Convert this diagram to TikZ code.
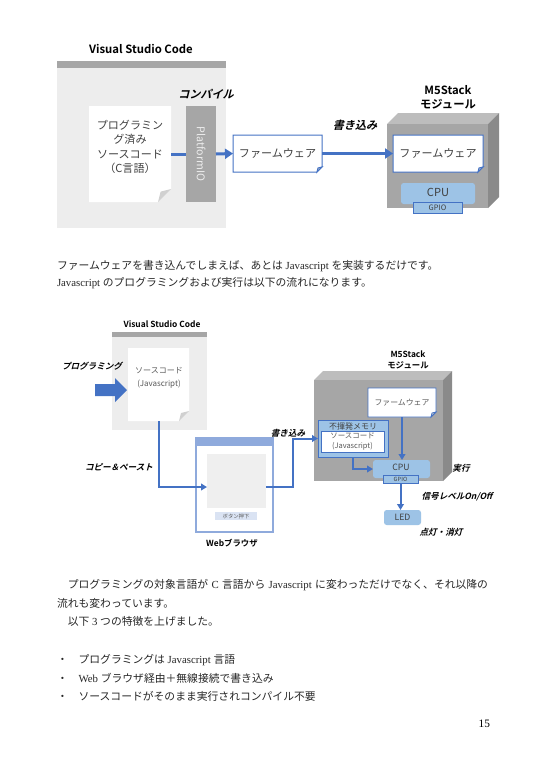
\documentclass[tikz,border=0pt]{standalone}
\usepackage{fontspec}
\setmainfont{Liberation Serif}
\newfontfamily\cjk{Noto Sans CJK JP}
\newfontfamily\cjkb{Noto Sans CJK JP Bold}
\newfontfamily\cjkbi{Noto Sans CJK JP Bold}[FakeSlant=0.25]
\newcommand\JP[1]{{\cjk #1}}
\usetikzlibrary{arrows.meta,fit}
\definecolor{bl}{HTML}{4472C4}
\definecolor{lb}{HTML}{9DC3E6}
\definecolor{vsb}{HTML}{EDEDED}
\definecolor{gr}{HTML}{A6A6A6}
\definecolor{grtop}{HTML}{BDBDBD}
\definecolor{grside}{HTML}{8A8A8A}
\definecolor{brw}{HTML}{8FAADC}
\definecolor{btn}{HTML}{DAE3F3}
\definecolor{inn}{HTML}{EFEFEF}
\definecolor{foldc}{HTML}{D0D0D0}
\definecolor{txt}{HTML}{404040}
\definecolor{txtl}{HTML}{595959}
\newcommand\dogear[4]{%
  \path[fill=#3,#4] (#1.north west) -- (#1.north east) -- ([yshift=#2]#1.south east) -- ([xshift=-#2]#1.south east) -- (#1.south west) -- cycle;
  \path[fill=foldc,#4] ([xshift=-#2]#1.south east) -- ([yshift=#2]#1.south east) -- ([xshift=-0.8*#2,yshift=0.8*#2]#1.south east) -- cycle;
}
\begin{document}
\begin{tikzpicture}[x=0.75pt,y=-0.75pt,
  every node/.style={inner sep=0pt,outer sep=0pt},
  area/.style={inner sep=0pt,outer sep=0pt},
  lbl/.style={font=\cjkbi\fontsize{8.3}{10}\selectfont},
  lbls/.style={font=\cjkbi\fontsize{6.4}{8}\selectfont},
  ttl/.style={font=\cjkb\fontsize{8.5}{10.5}\selectfont,align=center},
  ttls/.style={font=\cjkb\fontsize{6.3}{8.2}\selectfont,align=center},
  dtxt/.style={font=\cjk\fontsize{8.3}{10.7}\selectfont,text=txt,align=center},
  dtxts/.style={font=\cjk\fontsize{6}{9.5}\selectfont,text=txtl,align=center},
  bodyt/.style={anchor=west,font=\fontsize{8.1}{9}\selectfont,text=black!85},
  arr/.style={draw=bl,line width=2.25pt,-{Triangle[length=6pt,width=7.5pt]}},
  arrs/.style={draw=bl,line width=1.5pt,-{Triangle[length=4.5pt,width=5pt]}}]
\useasboundingbox[fill=white] (0,0) rectangle (540,760);

% ---------- top diagram ----------
\node[ttl] (t1) at (141,49) {Visual Studio Code};
\node[area,fit={(57,61) (226,68)},fill=gr] (vsbar1) {};
\node[area,fit={(57,68) (226,228)},fill=vsb] (vs1) {};
\node[area,fit={(89,106) (171,202)}] (doc1) {};
\dogear{doc1}{9.75pt}{white}{draw=none}
\node[dtxt] (doc1t) at (130,147) {プログラミン\\グ済み\\ソースコード\\（C言語）};
\node[area,fit={(186,106) (216,202)},fill=gr] (pio) {};
\node[rotate=-90,font=\cjk\fontsize{8}{9}\selectfont,text=white!80!gr] (piot) at (pio) {PlatformIO};
\node[lbl] (comp) at (206,94) {コンパイル};
\node[area,fit={(233,135) (322,172)}] (fw1) {};
\dogear{fw1}{3.75pt}{white}{draw=bl,line width=0.75pt}
\node[dtxt] (fw1t) at (fw1) {ファームウェア};
\node[lbl] (wr1) at (355,125) {書き込み};
% cube 1
\fill[grtop] (387,124) -- (398,113) -- (499,113) -- (488,124) -- cycle;
\fill[grside] (488,124) -- (499,113) -- (499,197) -- (488,208) -- cycle;
\node[area,fit={(387,124) (488,208)},fill=gr] (m5a) {};
\node[ttl] (m5at) at (448,97) {M5Stack\\モジュール};
\node[area,fit={(393,135) (483,172)}] (fw2) {};
\dogear{fw2}{3.75pt}{white}{draw=bl,line width=0.75pt}
\node[dtxt] (fw2t) at (fw2) {ファームウェア};
\node[area,fit={(401,183) (475,204)},fill=lb,rounded corners=2pt] (cpu1) {};
\node[dtxt] (cpu1t) at (438,192) {CPU};
\node[area,fit={(413,202) (462,213)},fill=lb,draw=bl,line width=0.6pt] (gpio1) {};
\node[font=\cjk\fontsize{5.6}{6}\selectfont,text=txt] (gpio1t) at (gpio1) {GPIO};
% arrows
\draw[draw=bl,line width=2.25pt] (doc1.east) -- (pio.west);
\draw[arr] (pio.east) -- (fw1.west);
\draw[arr] (fw1.east) -- (fw2.west);

% ---------- body text 1 ----------
\node[bodyt] (b1) at (57,266) {\JP{ファームウェアを書き込んでしまえば、あとは} Javascript \JP{を実装するだけです。}};
\node[bodyt] (b2) at (57,283) {Javascript \JP{のプログラミングおよび実行は以下の流れになります。}};

% ---------- bottom diagram ----------
\node[ttls] (t2) at (162,324) {Visual Studio Code};
\node[area,fit={(112,332) (207,337)},fill=gr] (vsbar2) {};
\node[area,fit={(112,337) (207,430)},fill=vsb] (vs2) {};
\node[area,fit={(128,348) (189,421)}] (doc2) {};
\dogear{doc2}{7.5pt}{white}{draw=none}
\node[dtxts] (doc2t) at (159,378) {ソースコード\\(Javascript)};
\fill[bl] (95,384) -- (115,384) -- (115,378) -- (127,390) -- (115,402) -- (115,396) -- (95,396) -- cycle;
\node[lbls] (prg) at (92,366) {プログラミング};
\node[lbls] (cp) at (119,467) {コピー＆ペースト};
% browser
\node[area,fit={(196,438) (273,532)},fill=white,draw=brw,line width=0.9pt] (br) {};
\node[area,fit={(196,438) (273,446)},fill=brw] (brbar) {};
\node[area,fit={(207,454) (266,508)},fill=inn] (inner) {};
\node[area,fit={(215,512) (257,520)},fill=btn] (btn) {};
\node[font=\cjk\fontsize{4}{5}\selectfont,text=txtl] (btnt) at (btn) {ボタン押下};
\node[ttls] (brt) at (232,543) {Webブラウザ};
\node[lbls] (wr2) at (288,433) {書き込み};
% cube 2
\fill[grtop] (314,380) -- (323,371) -- (452,371) -- (443,380) -- cycle;
\fill[grside] (443,380) -- (452,371) -- (452,472) -- (443,481) -- cycle;
\node[area,fit={(314,380) (443,481)},fill=gr] (m5b) {};
\node[ttls] (m5bt) at (408,360) {M5Stack\\モジュール};
\node[area,fit={(368,388) (436,417)}] (fw3) {};
\dogear{fw3}{3.75pt}{white}{draw=bl,line width=0.6pt}
\node[font=\cjk\fontsize{5.9}{7}\selectfont,text=txtl] (fw3t) at (fw3) {ファームウェア};
\node[area,fit={(318,420) (388,457)},fill=lb,draw=bl,line width=0.75pt] (mem) {};
\node[font=\cjk\fontsize{6}{7}\selectfont,text=txt] (memt) at (353,426) {不揮発メモリ};
\node[area,fit={(321,431) (384,452)},fill=white,draw=bl,line width=0.6pt] (src) {};
\node[font=\cjk\fontsize{5.6}{7.4}\selectfont,text=txtl,align=center] (srct) at (src) {ソースコード\\(Javascript)};
\node[area,fit={(373,460) (430,478)},fill=lb,rounded corners=2pt] (cpu2) {};
\node[font=\cjk\fontsize{6.5}{7}\selectfont,text=txt] (cpu2t) at (401,467) {CPU};
\node[area,fit={(383,475) (418,483)},fill=lb,draw=bl,line width=0.5pt] (gpio2) {};
\node[font=\cjk\fontsize{4.3}{5}\selectfont,text=txt] (gpio2t) at (gpio2) {GPIO};
\node[area,fit={(384,510) (421,525)},fill=lb,rounded corners=2pt] (led) {};
\node[font=\cjk\fontsize{6.5}{7}\selectfont,text=txt] (ledt) at (led) {LED};
\node[lbls] (run) at (461,468) {実行};
\node[lbls] (sig) at (457,497) {信号レベルOn/Off};
\node[lbls] (onoff) at (441,532) {点灯・消灯};
% connectors
\draw[arrs] (doc2.south) |- ([yshift=-4.5pt]inner.west);
\draw[arrs] ([yshift=-4.5pt]inner.east) -- ++(27,0) |- (mem.west);
\draw[arrs] (fw3.south) -- (fw3.south |- cpu2.north);
\draw[arrs] (mem.south) |- (cpu2.west);
\draw[arrs] (gpio2.south) -- (gpio2.south |- led.north);

% ---------- body text 2 ----------
\node[bodyt] (b3) at (57,585) {\makebox[323.25pt][s]{\JP{　プログラミングの対象言語が} C \JP{言語から} Javascript \JP{に変わっただけでなく、それ以降の}}};
\node[bodyt] (b4) at (57,603) {\JP{流れも変わっています。}};
\node[bodyt] (b5) at (57,621) {\JP{　以下} 3 \JP{つの特徴を上げました。}};
\node[bodyt] (b6) at (57,660) {\JP{・　プログラミングは} Javascript \JP{言語}};
\node[bodyt] (b7) at (57,678) {\JP{・　}Web \JP{ブラウザ経由＋無線接続で書き込み}};
\node[bodyt] (b8) at (57,696) {\JP{・　ソースコードがそのまま実行されコンパイル不要}};
\node[anchor=east,font=\fontsize{8.5}{10}\selectfont] (pg) at (490,724) {15};
\end{tikzpicture}
\end{document}
